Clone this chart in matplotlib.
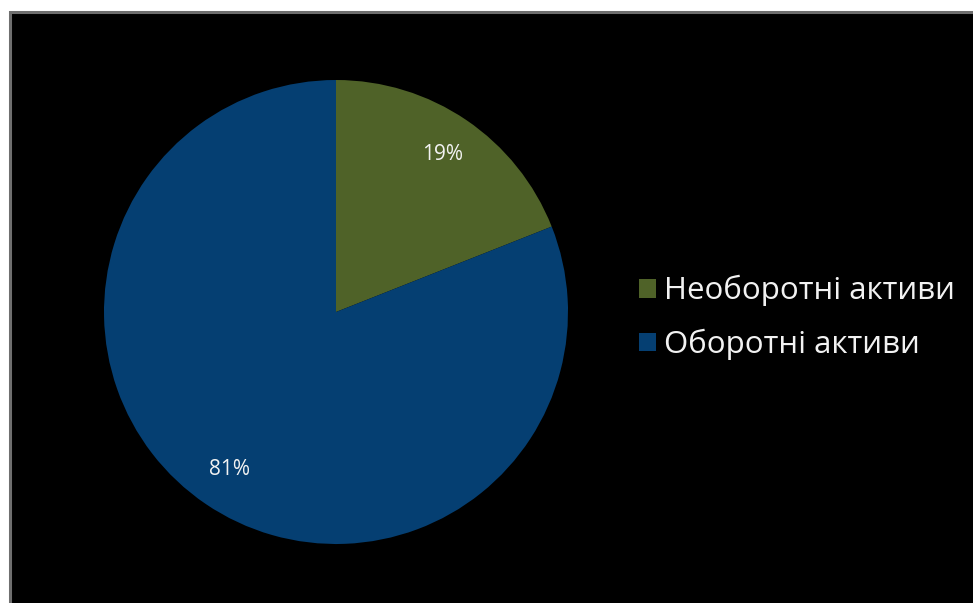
import matplotlib
matplotlib.use("Agg")
import matplotlib.pyplot as plt
from matplotlib.patches import Rectangle, Patch

categories = ["Необоротні активи", "Оборотні активи"]
shares = [19, 81]
colors = ["#4F6228", "#053F72"]

W, H, DPI = 973, 603, 100
fig = plt.figure(figsize=(W / DPI, H / DPI), dpi=DPI)
fig.patch.set_facecolor("white")

# black chart area with a thin grey frame
fig.add_artist(Rectangle((10 / W, -0.01), 1.0, (H - 12) / H + 0.01,
                         transform=fig.transFigure, facecolor="black",
                         edgecolor="#6f6f6f", linewidth=2.2, zorder=0))

# pie axes: centre (336, 312) px, radius 232 px
cx, cy, r = 336, H - 312, 232
ax = fig.add_axes([(cx - r) / W, (cy - r) / H, 2 * r / W, 2 * r / H])
ax.set_facecolor("none")
wedges, texts, autotexts = ax.pie(
    shares, colors=colors, startangle=90, counterclock=False,
    radius=1.0, autopct="%d%%", pctdistance=0.82,
    textprops=dict(color="#f2f2f2", fontsize=15, family="Open Sans"),
)
ax.set_xlim(-1, 1)
ax.set_ylim(-1, 1)
ax.set_aspect("equal")
ax.axis("off")

handles = [Patch(facecolor=c, edgecolor="none") for c in colors]
leg = fig.legend(handles, categories, loc="upper left",
                 bbox_to_anchor=(617 / W, 1 - 253 / H),
                 frameon=False, labelcolor="#f2f2f2",
                 handlelength=0.55, handleheight=0.55, handletextpad=0.25,
                 labelspacing=0.72, borderpad=0.2,
                 prop=dict(family="Open Sans", size=22.5))

fig.savefig("out.png", dpi=DPI, facecolor=fig.get_facecolor())
